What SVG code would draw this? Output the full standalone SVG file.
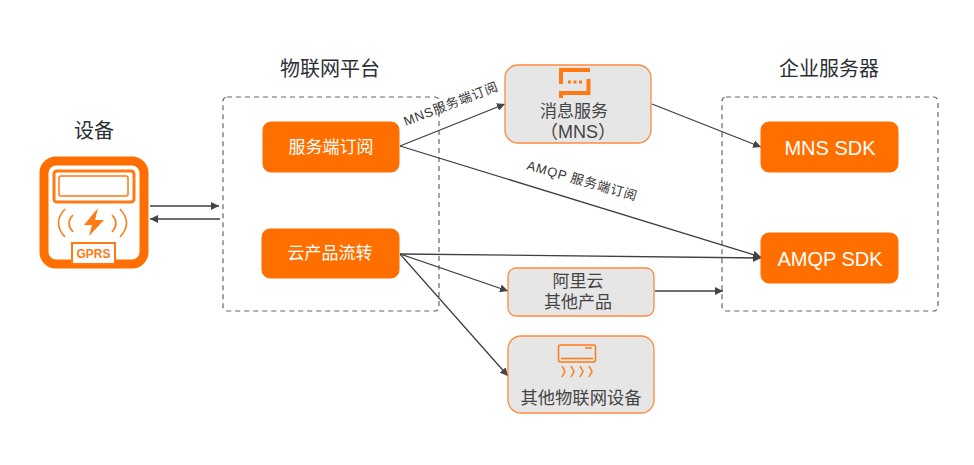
<svg xmlns="http://www.w3.org/2000/svg" width="974" height="465" viewBox="0 0 974 465">
<style>
text{font-family:"Liberation Sans","Noto Sans CJK SC",sans-serif;text-anchor:middle}
.t{font-size:20px;fill:#2b2f36}
.w{font-size:17px;fill:#fff}
.s{font-size:20px;fill:#fff}
.g{font-size:17px;fill:#444}
.e{font-size:13px;fill:#333;letter-spacing:.8px}
.o{fill:#ff6f00;stroke:#ff6f00}
.b{fill:#e6e6e6;stroke:#ff8a3c;stroke-width:1.3}
.d{fill:none;stroke:#666;stroke-width:1.2;stroke-dasharray:5 4}
.c{fill:none;stroke:#3f3f3f;stroke-width:1.3;marker-end:url(#a)}
.i{fill:none;stroke:#ff7a14;stroke-width:1.5}
</style>
<defs><marker id="a" markerUnits="userSpaceOnUse" markerWidth="9" markerHeight="8" refX="8" refY="4" orient="auto"><path d="M0 0L8 4L0 8Z" fill="#444"/></marker></defs>
<rect width="974" height="465" fill="#fff"/>
<g id="zones">
<rect class="d" x="223" y="97" width="216" height="214" rx="4"/>
<rect class="d" x="722" y="97" width="216" height="214" rx="4"/>
<text class="t" x="330" y="76">物联网平台</text>
<text class="t" x="829" y="76">企业服务器</text>
</g>
<g id="device">
<text class="t" x="94" y="138">设备</text>
<rect x="44" y="161" width="100" height="103" rx="12" fill="#fff" stroke="#ff6f00" stroke-width="9"/>
<rect x="54" y="171" width="80" height="31" rx="3" fill="none" stroke="#ff7a14" stroke-width="3"/>
<rect x="59" y="176" width="69" height="20" rx="2" fill="none" stroke="#ff7a14" stroke-width="1.500"/>
<path d="M98 208L84 225H92L89 236L104 220H95Z" fill="#ff7a14"/>
<path class="i" d="M65 209Q52 223 65 237M73 215Q65 223 73 232M120 209Q133 223 120 237M112 215Q120 223 112 232" stroke-width="2.400"/>
<rect x="72" y="243" width="43" height="21" fill="#fff" stroke="#ff7a14" stroke-width="2"/>
<text x="93.500" y="257.500" style="font-size:12px;font-weight:700;fill:#ff7a14">GPRS</text>
</g>
<g id="connectors">
<path class="c" d="M150 206H219"/>
<path class="c" d="M220 219H150"/>
<path class="c" d="M400 146L505 104"/>
<path class="c" d="M400 146L761 257"/>
<path class="c" d="M652 104L761 147"/>
<path class="c" d="M400 254L761 258"/>
<path class="c" d="M400 254L508 291"/>
<path class="c" d="M400 254L508 376"/>
<path class="c" d="M655 291H723"/>
</g>
<g id="labels">
<text class="e" transform="translate(452.500 108) rotate(-21)">MNS服务端订阅</text>
<text class="e" transform="translate(581 185) rotate(16)">AMQP 服务端订阅</text>
</g>
<g id="sub"><rect class="o" x="263" y="122" width="136" height="50" rx="8"/><text class="w" x="331" y="153">服务端订阅</text></g>
<g id="flow"><rect class="o" x="262" y="229" width="137" height="49" rx="8"/><text class="w" x="330" y="259">云产品流转</text></g>
<g id="mns"><rect class="b" x="505" y="65" width="146" height="78" rx="13"/>
<path d="M590 70H561V84M588.500 79V93H561V98" fill="none" stroke="#ff7a14" stroke-width="4"/>
<path d="M568 82h3M573.500 82h3M579 82h3" stroke="#ff7a14" stroke-width="3"/>
<text class="g" x="574" y="117">消息服务</text><text class="g" x="578" y="138" style="font-size:18px">（MNS）</text></g>
<g id="other"><rect class="b" x="508" y="268" width="146" height="48" rx="8"/><text class="g" x="578" y="287">阿里云</text><text class="g" x="578" y="308">其他产品</text></g>
<g id="iot"><rect class="b" x="508" y="336" width="146" height="77" rx="13"/>
<rect class="i" x="558.500" y="345" width="37" height="17" rx="2"/>
<path class="i" d="M561 358.500H593M585 348H592"/>
<path class="i" d="M562 366L565 371.500L562 377M571 366L574 371.500L571 377M580 366L583 371.500L580 377M589 366L592 371.500L589 377" stroke-width="1.200"/>
<text class="g" x="581" y="404" style="font-size:17.300px">其他物联网设备</text></g>
<g id="mnssdk"><rect class="o" x="761" y="122" width="137" height="50" rx="8"/><text class="s" x="830" y="155">MNS SDK</text></g>
<g id="amqpsdk"><rect class="o" x="761" y="233" width="137" height="50" rx="8"/><text class="s" x="830" y="266">AMQP SDK</text></g>
</svg>
